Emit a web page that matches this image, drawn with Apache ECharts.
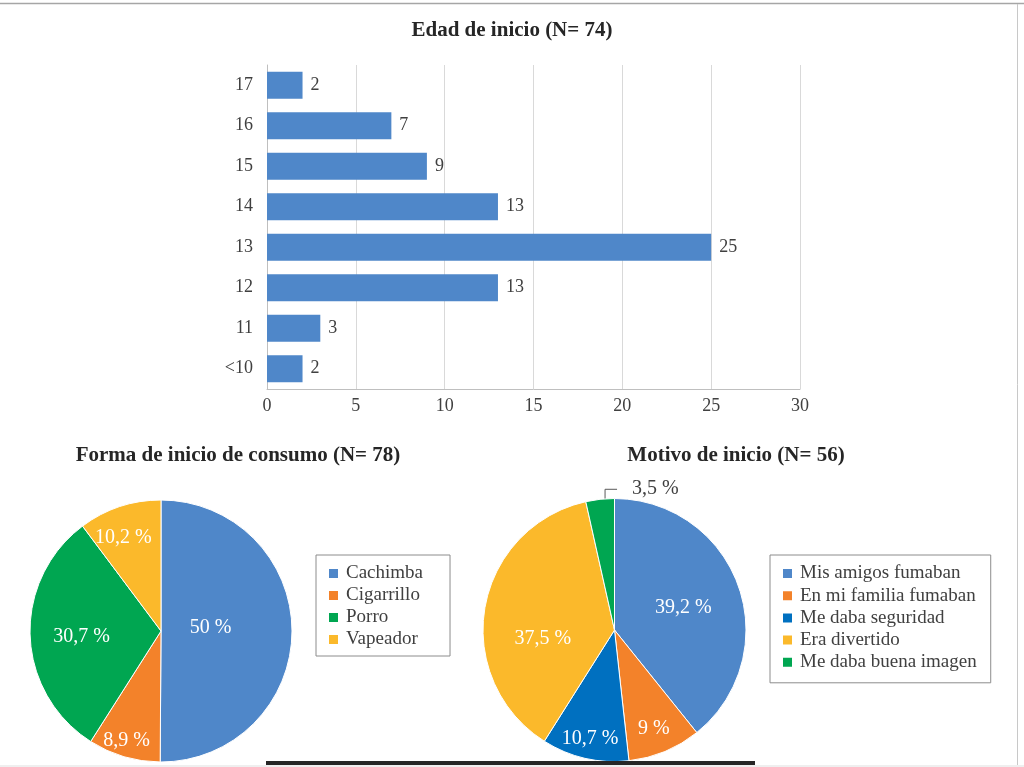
<!DOCTYPE html>
<html>
<head>
<meta charset="utf-8">
<script src="https://cdn.jsdelivr.net/npm/echarts@6/dist/echarts.min.js"></script>
<style>
  html, body { margin: 0; padding: 0; background: #ffffff; }
  #main { width: 1024px; height: 767px; }
</style>
</head>
<body>
<div id="main"></div>
<script>
// ---------- data ----------
const ageCategories = ['<10', '11', '12', '13', '14', '15', '16', '17'];
const ageValues = [2, 3, 13, 25, 13, 9, 7, 2];
const ageTicks = [0, 5, 10, 15, 20, 25, 30];

const formaNames = ['Cachimba', 'Cigarrillo', 'Porro', 'Vapeador'];
const formaValues = [50, 8.9, 30.7, 10.2];

const motivoNames = ['Mis amigos fumaban', 'En mi familia fumaban', 'Me daba seguridad', 'Era divertido', 'Me daba buena imagen'];
const motivoValues = [39.2, 9, 10.7, 37.5, 3.5];

const titles = ['Edad de inicio (N= 74)', 'Forma de inicio de consumo (N= 78)', 'Motivo de inicio (N= 56)'];

// ---------- styles ----------
const FONT = 'Liberation Serif';
const BLUE = '#4F87C9', ORANGE = '#F3822A', GREEN = '#00A651', YELLOW = '#FBB92B', DBLUE = '#0070C0';
const formaColors = [BLUE, ORANGE, GREEN, YELLOW];
const motivoColors = [BLUE, ORANGE, DBLUE, YELLOW, GREEN];
// label nudges (pixels) relative to default inside label spot
const formaNudge = [[-19, -3], [-15, 44], [-11, 3], [-16, -28]];
const motivoNudge = [[4, 1], [13, 35], [-9, 42], [-4, 20], [0, 0]];

const fmtPct = v => String(v).replace('.', ',') + ' %';

const chart = echarts.init(document.getElementById('main'), null, { renderer: 'canvas' });

const formaData = formaNames.map((n, i) => ({ name: n, value: formaValues[i], itemStyle: { color: formaColors[i] } }));
const motivoData = motivoNames.map((n, i) => {
  const d = { name: n, value: motivoValues[i], itemStyle: { color: motivoColors[i] } };
  if (i === 4) {
    d.label = { position: 'outside', color: '#404040' };
    d.labelLine = { show: true, lineStyle: { color: '#595959', width: 1 } };
  }
  return d;
});

const titleStyle = { fontFamily: FONT, fontSize: 21, fontWeight: 'bold', color: '#262626' };
const legendText = { fontFamily: FONT, fontSize: 19, color: '#404040', padding: [0, 0, 0, 2] };

const option = {
  backgroundColor: '#ffffff',
  animation: false,
  textStyle: { fontFamily: FONT },
  title: [
    { text: titles[0], left: 512, top: 20, textAlign: 'center', padding: 0, textStyle: titleStyle },
    { text: titles[1], left: 238, top: 445, textAlign: 'center', padding: 0, textStyle: titleStyle },
    { text: titles[2], left: 736, top: 445, textAlign: 'center', padding: 0, textStyle: titleStyle }
  ],
  legend: [
    { data: formaNames, orient: 'vertical', left: 316, top: 555, padding: [9, 27, 7, 11],
      itemWidth: 11, itemHeight: 11, itemGap: 3, icon: 'rect',
      borderColor: '#8c8c8c', borderWidth: 1, selectedMode: false, textStyle: legendText },
    { data: motivoNames, orient: 'vertical', left: 770, top: 555, padding: [9, 14, 11, 11],
      itemWidth: 11, itemHeight: 11, itemGap: 3.2, icon: 'rect',
      borderColor: '#8c8c8c', borderWidth: 1, selectedMode: false, textStyle: legendText }
  ],
  grid: { left: 267, right: 224, top: 65, bottom: 378, containLabel: false },
  xAxis: {
    type: 'value', min: ageTicks[0], max: ageTicks[ageTicks.length - 1], interval: 5,
    axisLine: { show: true, lineStyle: { color: '#bfbfbf' } },
    axisTick: { show: false },
    splitLine: { show: true, lineStyle: { color: '#d9d9d9' } },
    axisLabel: { fontFamily: FONT, fontSize: 18, color: '#404040', margin: 8 }
  },
  yAxis: {
    type: 'category', data: ageCategories,
    axisLine: { show: true, lineStyle: { color: '#bfbfbf' } },
    axisTick: { show: false },
    axisLabel: { fontFamily: FONT, fontSize: 18, color: '#404040', margin: 14 }
  },
  series: [
    {
      type: 'bar', data: ageValues, barCategoryGap: '33%',
      itemStyle: { color: BLUE },
      label: { show: true, position: 'right', distance: 8, fontFamily: FONT, fontSize: 18, color: '#404040' }
    },
    {
      type: 'pie', center: [161, 631], radius: 131, startAngle: 90, clockwise: true,
      data: formaData,
      itemStyle: { borderColor: '#ffffff', borderWidth: 1 },
      label: { show: true, position: 'inside', fontFamily: FONT, fontSize: 20, color: '#ffffff',
        formatter: p => fmtPct(p.value) },
      labelLine: { show: false },
      emphasis: { disabled: true },
      labelLayout: p => ({ dx: formaNudge[p.dataIndex][0], dy: formaNudge[p.dataIndex][1] })
    },
    {
      type: 'pie', center: [614.5, 630], radius: 131.5, startAngle: 90, clockwise: true,
      data: motivoData,
      itemStyle: { borderColor: '#ffffff', borderWidth: 1 },
      label: { show: true, position: 'inside', fontFamily: FONT, fontSize: 20, color: '#ffffff',
        formatter: p => fmtPct(p.value) },
      labelLine: { show: false, length: 10, length2: 10 },
      emphasis: { disabled: true },
      labelLayout: p => {
        if (p.dataIndex === 4 && p.labelLinePoints) {
          const e = p.labelLinePoints[0];
          return {
            x: e[0] + 32, y: e[1] - 11, align: 'left', verticalAlign: 'middle',
            labelLinePoints: [[e[0] + 5, e[1] + 4], [e[0] + 5, e[1] - 10], [e[0] + 17, e[1] - 10]]
          };
        }
        return { dx: motivoNudge[p.dataIndex][0], dy: motivoNudge[p.dataIndex][1] };
      }
    }
  ],
  graphic: [
    { type: 'rect', shape: { x: 0, y: 765, width: 1024, height: 2 }, style: { fill: '#efefef' }, silent: true },
    { type: 'line', shape: { x1: 0, y1: 3.5, x2: 1024, y2: 3.5 }, style: { stroke: '#a6a6a6', lineWidth: 1.5 }, silent: true },
    { type: 'line', shape: { x1: 1017.5, y1: 4, x2: 1017.5, y2: 765 }, style: { stroke: '#c8c8c8', lineWidth: 1 }, silent: true },
    { type: 'rect', shape: { x: 266, y: 761, width: 489, height: 4 }, style: { fill: '#262626' }, silent: true, z: 100 }
  ]
};

chart.setOption(option);
</script>
</body>
</html>
